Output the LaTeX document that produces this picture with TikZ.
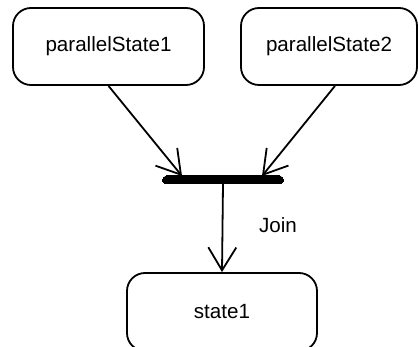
\documentclass[tikz,border=0pt]{standalone}
\usepackage{fontspec}
\setmainfont{Liberation Sans}
\usetikzlibrary{arrows.meta}
\begin{document}
\begin{tikzpicture}[x=1pt,y=-1pt,
  state/.style={draw,line width=1.8pt,rounded corners=18pt,minimum height=77pt,inner sep=0pt,font=\fontsize{20.6}{24}\selectfont},
  conn/.style={line width=1.8pt,-{Straight Barb[length=23pt,width=28pt,line width=1.8pt]}},
  lbl/.style={font=\fontsize{20.6}{24}\selectfont}]
\useasboundingbox (0,0) rectangle (418,347);
\node[state,minimum width=191pt] (p1) at (108.5,46.5) {parallelState1};
\node[state,minimum width=176pt] (p2) at (329,46.5) {parallelState2};
\node[draw,fill=black,rounded corners=4pt,minimum width=121pt,minimum height=8pt,inner sep=0pt,line width=0pt] (bar) at (223,180) {};
\node[state,minimum width=190pt,minimum height=78pt] (s1) at (222,312) {state1};
\node[lbl] (join) at (278,225) {Join};
\draw[conn] (p1.south) -- ([xshift=-41pt]bar.north);
\draw[conn] ([xshift=6pt]p2.south) -- ([xshift=39pt]bar.north);
\draw[conn] (bar.south) -- (s1.north);
\end{tikzpicture}
\end{document}
